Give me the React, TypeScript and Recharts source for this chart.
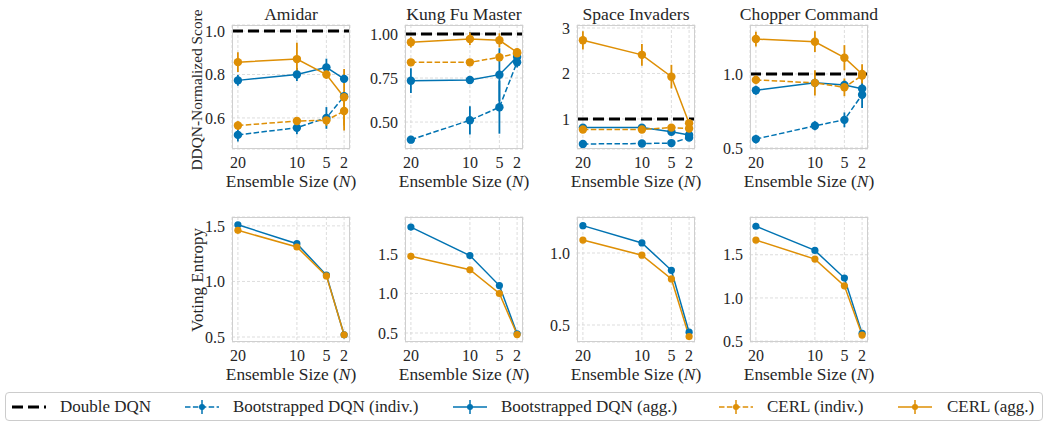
import React from "react";
import { CartesianGrid, ErrorBar, Line, LineChart, ReferenceLine, XAxis, YAxis } from "recharts";

// ensemble sizes shown on every x axis (reversed)
const ensembleSizes = [20, 10, 5, 2];
const xTicks = [20, 10, 5, 2];

type Pt = [number, number]; // [mean, error]

// DDQN-normalized score (top row)
const amidarBootIndiv: Pt[] = [[0.522, 0.03], [0.555, 0.03], [0.6, 0.05], [0.7, 0.02]];
const amidarBootAgg: Pt[] = [[0.773, 0.025], [0.8, 0.03], [0.833, 0.04], [0.78, 0.02]];
const amidarCerlIndiv: Pt[] = [[0.565, 0.02], [0.586, 0.015], [0.589, 0.025], [0.632, 0.09]];
const amidarCerlAgg: Pt[] = [[0.857, 0.045], [0.871, 0.075], [0.8, 0.02], [0.695, 0.13]];

const kungFuBootIndiv: Pt[] = [[0.4, 0.02], [0.51, 0.08], [0.584, 0.15], [0.84, 0.03]];
const kungFuBootAgg: Pt[] = [[0.735, 0.07], [0.739, 0.02], [0.769, 0.15], [0.87, 0.02]];
const kungFuCerlIndiv: Pt[] = [[0.839, 0.015], [0.839, 0.015], [0.868, 0.02], [0.89, 0.015]];
const kungFuCerlAgg: Pt[] = [[0.953, 0.03], [0.972, 0.035], [0.964, 0.04], [0.896, 0.02]];

const spaceBootIndiv: Pt[] = [[0.45, 0.02], [0.46, 0.02], [0.47, 0.02], [0.59, 0.03]];
const spaceBootAgg: Pt[] = [[0.81, 0.03], [0.81, 0.03], [0.72, 0.03], [0.65, 0.04]];
const spaceCerlIndiv: Pt[] = [[0.77, 0.03], [0.77, 0.03], [0.81, 0.03], [0.79, 0.03]];
const spaceCerlAgg: Pt[] = [[2.73, 0.2], [2.41, 0.24], [1.93, 0.26], [0.905, 0.06]];

const chopperBootIndiv: Pt[] = [[0.56, 0.03], [0.65, 0.03], [0.69, 0.05], [0.86, 0.09]];
const chopperBootAgg: Pt[] = [[0.89, 0.03], [0.94, 0.03], [0.926, 0.03], [0.9, 0.03]];
const chopperCerlIndiv: Pt[] = [[0.96, 0.03], [0.94, 0.085], [0.91, 0.06], [0.99, 0.04]];
const chopperCerlAgg: Pt[] = [[1.236, 0.05], [1.218, 0.07], [1.11, 0.085], [1.0, 0.065]];

// voting entropy (bottom row)
const amidarEntBoot: Pt[] = [[1.51, 0.01], [1.34, 0.015], [1.057, 0.015], [0.52, 0.01]];
const amidarEntCerl: Pt[] = [[1.46, 0.01], [1.31, 0.01], [1.05, 0.01], [0.52, 0.01]];
const kungFuEntBoot: Pt[] = [[1.84, 0.04], [1.48, 0.04], [1.1, 0.04], [0.49, 0.01]];
const kungFuEntCerl: Pt[] = [[1.47, 0.01], [1.3, 0.01], [1.0, 0.01], [0.48, 0.01]];
const spaceEntBoot: Pt[] = [[1.19, 0.01], [1.07, 0.01], [0.88, 0.01], [0.45, 0.01]];
const spaceEntCerl: Pt[] = [[1.09, 0.01], [0.985, 0.01], [0.82, 0.01], [0.42, 0.01]];
const chopperEntBoot: Pt[] = [[1.83, 0.01], [1.55, 0.01], [1.23, 0.015], [0.59, 0.01]];
const chopperEntCerl: Pt[] = [[1.67, 0.01], [1.45, 0.01], [1.14, 0.01], [0.57, 0.01]];

const BLUE = "#0173b2";
const ORANGE = "#de8f05";
const TEXT = "#262626";
const FONT = "'Liberation Serif', 'DejaVu Serif', serif";

const BOX_LEFT = [232, 405, 577, 750];
const BOX_W = 118;
const TOP_Y = 25;
const TOP_H = 124;
const BOT_Y = 217;
const BOT_H = 125;
const Y_W = 42;
const PAD = 10;
const X_H = 26;

function rowsFrom(series: Record<string, Pt[]>) {
  return ensembleSizes.map((n, i) => {
    const row: Record<string, number> = { n };
    Object.entries(series).forEach(([k, v]) => {
      row[k] = v[i][0];
      row[k + "Err"] = v[i][1];
    });
    return row;
  });
}

type PanelProps = {
  idx: number;
  top: number;
  height: number;
  data: Record<string, number>[];
  domain: [number, number];
  ticks: number[];
  digits: number;
  entropy?: boolean;
};

function Panel({ idx, top, height, data, domain, ticks, digits, entropy }: PanelProps) {
  const left = BOX_LEFT[idx];
  const r = entropy ? 3.6 : 4.2;
  const dot = (c: string) => ({ r, fill: c, stroke: c, strokeWidth: 0, strokeDasharray: "0" });
  const series = entropy
    ? [
        { key: "ba", color: BLUE, dashed: false },
        { key: "ca", color: ORANGE, dashed: false },
      ]
    : [
        { key: "bi", color: BLUE, dashed: true },
        { key: "ba", color: BLUE, dashed: false },
        { key: "ci", color: ORANGE, dashed: true },
        { key: "ca", color: ORANGE, dashed: false },
      ];
  return (
    <>
      <div style={{ position: "absolute", left: left - Y_W, top: top - PAD }}>
        <LineChart
          width={Y_W + BOX_W + PAD}
          height={PAD + height + X_H}
          data={data}
          margin={{ top: PAD, right: PAD, left: 0, bottom: 0 }}
        >
          <CartesianGrid stroke="#d4d4d4" strokeDasharray="3 2" strokeWidth={0.8} />
          <XAxis
            type="number"
            dataKey="n"
            domain={[1, 21]}
            reversed
            allowDataOverflow
            ticks={xTicks}
            interval={0}
            tickLine={false}
            axisLine={false}
            tickSize={6}
            tickMargin={2}
            height={X_H}
            tick={{ fontSize: 16, fill: TEXT, fontFamily: FONT }}
          />
          <YAxis
            type="number"
            domain={domain}
            allowDataOverflow
            ticks={ticks}
            interval={0}
            tickFormatter={(v: number) => v.toFixed(digits)}
            tickLine={false}
            axisLine={false}
            tickSize={5}
            tickMargin={2}
            width={Y_W}
            tick={{ fontSize: 16, fill: TEXT, fontFamily: FONT }}
          />
          {!entropy && (
            <ReferenceLine y={1} stroke="#000" strokeWidth={3} strokeDasharray="11 5" />
          )}
          {series.map((s) => (
            <Line
              key={s.key}
              dataKey={s.key}
              stroke={s.color}
              strokeWidth={1.5}
              strokeDasharray={s.dashed ? "5.5 2.4" : undefined}
              dot={dot(s.color)}
              activeDot={false}
              isAnimationActive={false}
              type="linear"
            >
              <ErrorBar dataKey={s.key + "Err"} direction="y" width={0} stroke={s.color} strokeWidth={1.8} />
            </Line>
          ))}
        </LineChart>
      </div>
      <div
        style={{
          position: "absolute",
          left,
          top,
          width: BOX_W,
          height,
          boxSizing: "border-box",
          border: "1.2px solid #cfcfcf",
          pointerEvents: "none",
        }}
      />
    </>
  );
}

const textBase: React.CSSProperties = {
  position: "absolute",
  fontFamily: FONT,
  color: TEXT,
  lineHeight: 1,
  whiteSpace: "nowrap",
};

function Title({ idx, text }: { idx: number; text: string }) {
  return (
    <div style={{ ...textBase, left: BOX_LEFT[idx] - 40, width: BOX_W + 80, top: 6, textAlign: "center", fontSize: 17.6 }}>
      {text}
    </div>
  );
}

function XLabel({ idx, top }: { idx: number; top: number }) {
  return (
    <div style={{ ...textBase, left: BOX_LEFT[idx] - 40, width: BOX_W + 80, top, textAlign: "center", fontSize: 17.4 }}>
      Ensemble Size (<i>N</i>)
    </div>
  );
}

function YLabel({ y, text, size }: { y: number; text: string; size: number }) {
  return (
    <div
      style={{
        ...textBase,
        left: 197,
        top: y,
        fontSize: size,
        transform: "translate(-50%, -50%) rotate(-90deg)",
      }}
    >
      {text}
    </div>
  );
}

function Sample({ x, color, dashed, marker, width = 1.5, dash = "5.5 2.4" }: { x: number; color: string; dashed: boolean; marker: boolean; width?: number; dash?: string }) {
  return (
    <svg style={{ position: "absolute", left: x, top: 396.7 }} width={36} height={20}>
      <line x1={0} y1={10} x2={34} y2={10} stroke={color} strokeWidth={width} strokeDasharray={dashed ? dash : undefined} />
      {marker && (
        <>
          <line x1={17} y1={3} x2={17} y2={17} stroke={color} strokeWidth={1.5} />
          <circle cx={17} cy={10} r={3} fill={color} />
        </>
      )}
    </svg>
  );
}

function LegendText({ x, text }: { x: number; text: string }) {
  return <div style={{ ...textBase, left: x, top: 397.5, fontSize: 17 }}>{text}</div>;
}

export default function App() {
  const scoreRows = [
    rowsFrom({ bi: amidarBootIndiv, ba: amidarBootAgg, ci: amidarCerlIndiv, ca: amidarCerlAgg }),
    rowsFrom({ bi: kungFuBootIndiv, ba: kungFuBootAgg, ci: kungFuCerlIndiv, ca: kungFuCerlAgg }),
    rowsFrom({ bi: spaceBootIndiv, ba: spaceBootAgg, ci: spaceCerlIndiv, ca: spaceCerlAgg }),
    rowsFrom({ bi: chopperBootIndiv, ba: chopperBootAgg, ci: chopperCerlIndiv, ca: chopperCerlAgg }),
  ];
  const entRows = [
    rowsFrom({ ba: amidarEntBoot, ca: amidarEntCerl }),
    rowsFrom({ ba: kungFuEntBoot, ca: kungFuEntCerl }),
    rowsFrom({ ba: spaceEntBoot, ca: spaceEntCerl }),
    rowsFrom({ ba: chopperEntBoot, ca: chopperEntCerl }),
  ];

  return (
    <div style={{ position: "absolute", left: 0, top: 0, width: 1048, height: 423, background: "#fff", fontFamily: FONT }}>
      <Title idx={0} text="Amidar" />
      <Title idx={1} text="Kung Fu Master" />
      <Title idx={2} text="Space Invaders" />
      <Title idx={3} text="Chopper Command" />

      <Panel idx={0} top={TOP_Y} height={TOP_H} data={scoreRows[0]} domain={[0.457, 1.028]} ticks={[0.6, 0.8, 1.0]} digits={1} />
      <Panel idx={1} top={TOP_Y} height={TOP_H} data={scoreRows[1]} domain={[0.347, 1.051]} ticks={[0.5, 0.75, 1.0]} digits={2} />
      <Panel idx={2} top={TOP_Y} height={TOP_H} data={scoreRows[2]} domain={[0.34, 3.066]} ticks={[1, 2, 3]} digits={0} />
      <Panel idx={3} top={TOP_Y} height={TOP_H} data={scoreRows[3]} domain={[0.493, 1.331]} ticks={[0.5, 1.0]} digits={1} />

      <Panel idx={0} top={BOT_Y} height={BOT_H} data={entRows[0]} domain={[0.455, 1.58]} ticks={[0.5, 1.0, 1.5]} digits={1} entropy />
      <Panel idx={1} top={BOT_Y} height={BOT_H} data={entRows[1]} domain={[0.386, 1.968]} ticks={[0.5, 1.0, 1.5]} digits={1} entropy />
      <Panel idx={2} top={BOT_Y} height={BOT_H} data={entRows[2]} domain={[0.382, 1.25]} ticks={[0.5, 1.0]} digits={1} entropy />
      <Panel idx={3} top={BOT_Y} height={BOT_H} data={entRows[3]} domain={[0.49, 1.937]} ticks={[0.5, 1.0, 1.5]} digits={1} entropy />

      {[0, 1, 2, 3].map((i) => (
        <XLabel key={"t" + i} idx={i} top={173.3} />
      ))}
      {[0, 1, 2, 3].map((i) => (
        <XLabel key={"b" + i} idx={i} top={366.3} />
      ))}
      <YLabel y={90} text="DDQN-Normalized Score" size={15.4} />
      <YLabel y={279.5} text="Voting Entropy" size={17} />

      <div
        style={{
          position: "absolute",
          left: 5,
          top: 392,
          width: 1038,
          height: 29,
          boxSizing: "border-box",
          border: "1px solid #cccccc",
          borderRadius: 4,
        }}
      />
      <Sample x={12} color="#000" dashed marker={false} width={3} dash="11 5" />
      <LegendText x={60} text="Double DQN" />
      <Sample x={185} color={BLUE} dashed marker />
      <LegendText x={233} text="Bootstrapped DQN (indiv.)" />
      <Sample x={453} color={BLUE} dashed={false} marker />
      <LegendText x={501} text="Bootstrapped DQN (agg.)" />
      <Sample x={719} color={ORANGE} dashed marker />
      <LegendText x={767} text="CERL (indiv.)" />
      <Sample x={898} color={ORANGE} dashed={false} marker />
      <LegendText x={947} text="CERL (agg.)" />
    </div>
  );
}
